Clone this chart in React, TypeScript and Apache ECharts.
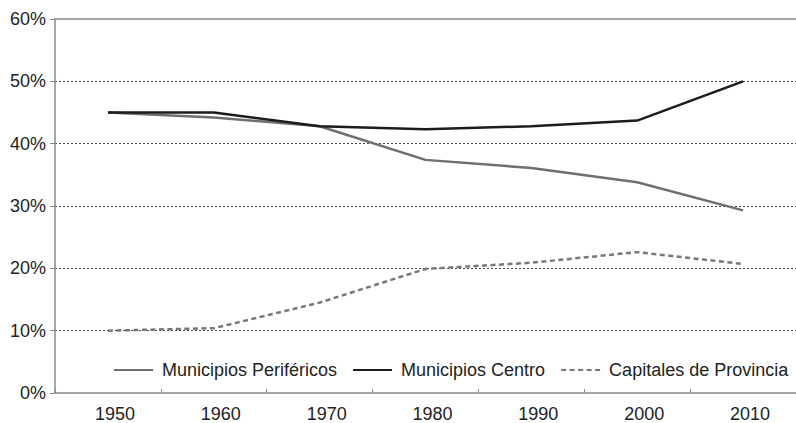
import React, { useEffect, useRef } from "react";
import * as echarts from "echarts";

const years = ["1950", "1960", "1970", "1980", "1990", "2000", "2010"];
const perifericos = [45.0, 44.2, 42.8, 37.4, 36.1, 33.8, 29.3];
const centro = [45.0, 45.0, 42.8, 42.3, 42.8, 43.7, 50.0];
const capitales = [10.0, 10.4, 14.5, 19.9, 20.9, 22.6, 20.7];

const FONT = "'Liberation Sans', Arial, sans-serif";

export default function App() {
  const ref = useRef<HTMLDivElement>(null);
  useEffect(() => {
    if (!ref.current) return;
    const chart = echarts.init(ref.current, undefined, { renderer: "svg" });
    chart.setOption({
      animation: false,
      backgroundColor: "#ffffff",
      textStyle: { fontFamily: FONT },
      grid: { left: 55, top: 19, width: 751, height: 374 },
      legend: {
        left: 113,
        top: 361,
        width: 683,
        padding: 0,
        itemWidth: 39,
        itemHeight: 12,
        itemGap: 15,
        itemStyle: { opacity: 0, borderWidth: 0 },
        textStyle: { fontSize: 18, color: "#222", fontFamily: FONT, padding: [0, 0, 0, 4] },
        data: ["Municipios Periféricos", "Municipios Centro", "Capitales de Provincia"],
      },
      xAxis: [
        {
          type: "category",
          data: years,
          boundaryGap: true,
          axisLine: { lineStyle: { color: "#8a8a8a", width: 1.5 } },
          axisTick: { show: true, inside: true, length: 4, lineStyle: { color: "#8a8a8a" } },
          axisLabel: { fontSize: 18, color: "#222", margin: 12, padding: [0, 0, 0, 14], fontFamily: FONT },
        },
        {
          type: "category",
          data: years,
          position: "top",
          axisLine: { show: true, lineStyle: { color: "#8a8a8a", width: 1.5 } },
          axisTick: { show: false },
          axisLabel: { show: false },
        },
      ],
      yAxis: {
        type: "value",
        min: 0,
        max: 60,
        interval: 10,
        axisLine: { show: true, lineStyle: { color: "#8a8a8a", width: 1.5 } },
        axisTick: { show: true, length: 5, lineStyle: { color: "#8a8a8a" } },
        axisLabel: { formatter: "{value}%", fontSize: 18, color: "#222", margin: 9, fontFamily: FONT },
        splitLine: {
          show: true,
          showMinLine: false,
          showMaxLine: false,
          lineStyle: { color: "#444", width: 1, type: [2, 2] },
        },
      },
      series: [
        {
          name: "Municipios Periféricos",
          type: "line",
          data: perifericos,
          symbol: "none",
          lineStyle: { color: "#6f6f6f", width: 2.5 },
          itemStyle: { color: "#6f6f6f" },
        },
        {
          name: "Municipios Centro",
          type: "line",
          data: centro,
          symbol: "none",
          lineStyle: { color: "#1c1c1c", width: 2.5 },
          itemStyle: { color: "#1c1c1c" },
        },
        {
          name: "Capitales de Provincia",
          type: "line",
          data: capitales,
          symbol: "none",
          lineStyle: { color: "#777777", width: 2.5, type: [5, 3.5] },
          itemStyle: { color: "#777777" },
        },
      ],
    });
    return () => chart.dispose();
  }, []);
  return <div ref={ref} style={{ width: 796, height: 423, position: "fixed", left: 0, top: 0 }} />;
}
